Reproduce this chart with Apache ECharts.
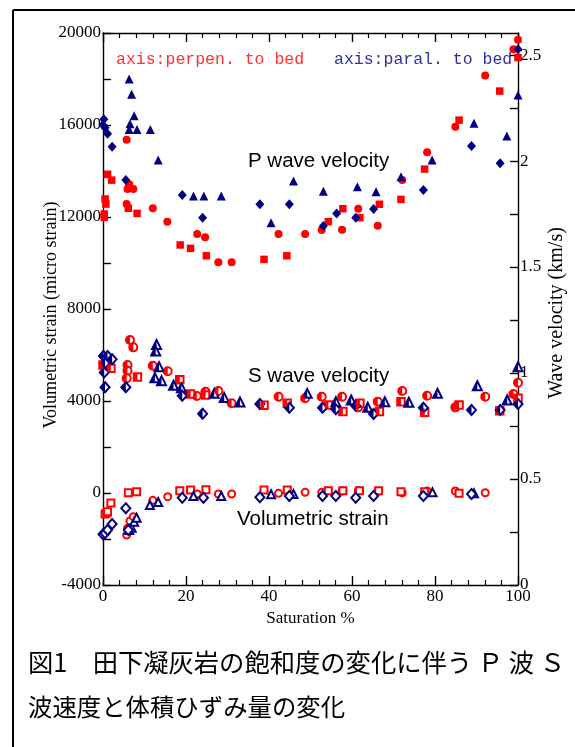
<!DOCTYPE html>
<html><head><meta charset="utf-8">
<script src="https://cdn.jsdelivr.net/npm/echarts@6/dist/echarts.min.js"></script>
<style>html,body{margin:0;padding:0;background:#fff}#c{width:575px;height:747px}</style>
</head><body><div id="c"></div>
<script>
// ---- Data: [saturation %, value] ----
// P wave velocity (km/s), right axis
const pPerpCircle = [[5.7,2.101],[6.3,1.890],[5.9,1.868],[7.3,1.868],[5.7,1.797],[12.0,1.777],[15.5,1.714],[22.7,1.656],[24.6,1.640],[27.8,1.522],[31.0,1.522],[42.3,1.656],[48.7,1.656],[52.7,1.675],[57.6,1.676],[61.5,1.775],[66.2,1.695],[72.1,1.910],[78.1,2.042],[84.9,2.162],[92.1,2.404],[98.9,2.527],[100,2.572]];
const pPerpSquare = [[1.1,1.937],[2.1,1.910],[0.5,1.821],[0.7,1.797],[0.3,1.750],[0.3,1.734],[6.1,1.777],[8.2,1.753],[18.6,1.604],[21.1,1.588],[24.9,1.553],[38.8,1.536],[44.3,1.553],[54.3,1.714],[57.8,1.775],[61.9,1.733],[66.6,1.796],[71.8,1.819],[77.5,1.962],[85.8,2.193],[95.6,2.330],[100,2.488]];
const pParaTriangle = [[6.3,2.387],[6.9,2.315],[7.5,2.214],[6.5,2.176],[6.3,2.149],[8.2,2.149],[11.4,2.149],[13.3,2.005],[21.8,1.835],[24.3,1.835],[28.5,1.835],[40.5,1.709],[45.9,1.906],[53.1,1.858],[61.3,1.879],[65.8,1.855],[71.8,1.926],[79.3,2.005],[89.4,2.178],[97.3,2.118],[100,2.311]];
const pParaDiamond = [[0.2,2.197],[0,2.170],[0.5,2.157],[1.1,2.129],[2.2,2.067],[5.5,1.910],[19.1,1.840],[24.0,1.733],[37.8,1.796],[44.9,1.796],[53.1,1.693],[56.3,1.753],[60.9,1.733],[65.2,1.774],[77.2,1.863],[88.8,2.071],[95.7,1.989],[100,2.527]];
// S wave velocity (km/s), right axis
const sPerpCircle = [[6.5,1.156],[7.3,1.121],[5.9,1.038],[5.9,1.011],[5.7,0.975],[12.0,1.034],[15.6,1.008],[22.6,0.892],[24.7,0.912],[27.8,0.915],[31.0,0.857],[42.3,0.888],[48.7,0.881],[52.7,0.888],[57.6,0.888],[61.5,0.838],[66.2,0.865],[72.1,0.915],[78.1,0.893],[84.9,0.838],[92.1,0.888],[98.9,0.901],[100,0.954]];
const sPerpSquare = [[0,1.038],[1.9,1.022],[8.3,0.981],[18.5,0.968],[21.1,0.901],[24.7,0.896],[38.8,0.848],[44.4,0.857],[54.3,0.849],[57.8,0.818],[61.9,0.857],[66.6,0.818],[71.8,0.865],[77.5,0.815],[85.8,0.849],[95.6,0.822],[100,0.881]];
const sParaTriangle = [[12.9,1.135],[12.7,1.104],[13.5,1.030],[12.5,0.978],[14.1,0.964],[17.0,0.942],[18.9,0.931],[26.8,0.904],[29.2,0.885],[33.0,0.863],[49.2,0.904],[56.1,0.865],[59.8,0.873],[63.8,0.838],[67.9,0.865],[73.7,0.862],[80.6,0.904],[90.2,0.940],[97.4,0.873],[100,1.030]];
const sParaDiamond = [[0.1,1.080],[1.1,1.080],[2.2,1.065],[0.5,1.046],[0.3,1.003],[0.5,0.933],[5.5,0.933],[19.1,0.893],[24.0,0.808],[37.8,0.854],[44.9,0.836],[52.9,0.836],[56.1,0.829],[60.9,0.846],[65.2,0.807],[77.2,0.836],[88.8,0.825],[95.7,0.825],[100,0.854]];
// Volumetric strain (micro strain), left axis
const strainPerpCircle = [[5.7,-1826],[5.9,-1536],[6.5,-1217],[7.3,-1029],[12.0,-319],[15.6,-159],[22.7,-43],[27.8,-43],[31.0,-43],[42.3,-15],[48.7,29],[52.7,29],[57.6,87],[61.5,100],[66.2,57],[72.1,13],[78.1,87],[84.9,87],[92.1,13]];
const strainPerpSquare = [[0.5,-913],[0.9,-857],[1.1,-813],[1.9,-435],[6.1,13],[8.1,57],[18.5,100],[21.1,130],[24.8,143],[38.8,130],[44.4,130],[54.3,100],[57.8,100],[61.8,100],[66.4,100],[71.8,57],[77.5,57],[85.8,-15]];
const strainParaTriangle = [[6.3,-1609],[6.9,-1507],[7.5,-1246],[8.1,-1072],[11.3,-522],[13.3,-391],[21.8,-130],[28.5,-130],[40.5,-57],[45.9,-43],[79.4,29],[89.4,-15]];
const strainParaDiamond = [[0,-1797],[0.5,-1754],[1.1,-1609],[2.2,-1348],[5.5,-667],[6.1,-1609],[19.1,-203],[24.2,-203],[37.8,-188],[44.9,-130],[52.9,-130],[56.1,-130],[60.9,-203],[65.2,-130],[77.2,-130],[88.8,-43]];

// Axis settings
const xRange = [0, 100];
const strainRange = [-4000, 20000];
const velocityRange = [0, 2.604];

// Text
const xTitle = 'Saturation %';
const leftTitle = 'Volumetric strain (micro strain)';
const rightTitle = 'Wave velocity (km/s)';
const perpLabel = 'axis:perpen. to bed';
const paraLabel = 'axis:paral. to bed';
const pLabel = 'P wave velocity';
const sLabel = 'S wave velocity';
const vLabel = 'Volumetric strain';
const captionLine1 = '図1　田下凝灰岩の飽和度の変化に伴う Ｐ 波 Ｓ';
const captionLine2 = '波速度と体積ひずみ量の変化';

const RED = '#ff0000', NAVY = '#000080';
const SLIVER = ' M99.9,0 L100,0 L100,100 L99.9,100 Z';
const halfSym = {
  circle: 'path://M50,0 A50,50 0 0,0 50,100 Z' + SLIVER,
  rect: 'path://M0,0 L50,0 L50,100 L0,100 Z' + SLIVER,
  triangle: 'path://M50,0 L50,100 L0,100 Z' + SLIVER,
  diamond: 'path://M50,0 L50,100 L0,50 Z' + SLIVER
};
const sizes = {circle: 8, rect: 7.5, triangle: 9, diamond: [9, 10]};
const openSizes = {circle: 7, rect: 7, triangle: 8, diamond: [9, 10]};

function filled(data, shape, color) {
  return {type: 'scatter', yAxisIndex: 1, data: data, symbol: shape, symbolSize: sizes[shape],
    itemStyle: {color: color, opacity: 1}, silent: true, z: 3};
}
function openS(data, shape, color, yIdx, sz) {
  const name = 'empty' + shape.charAt(0).toUpperCase() + shape.slice(1);
  return {type: 'scatter', yAxisIndex: yIdx, data: data, symbol: name, symbolSize: sz[shape],
    itemStyle: {color: color, borderColor: color, borderWidth: 1.2, opacity: 1}, silent: true, z: 3};
}
function half(data, shape, color) {
  return {type: 'scatter', yAxisIndex: 1, data: data, symbol: halfSym[shape], symbolSize: sizes[shape],
    itemStyle: {color: color, borderWidth: 0, opacity: 1}, silent: true, z: 4};
}

const serif = 'Liberation Serif';
const axisLineStyle = {color: '#000', width: 1.4};

const chart = echarts.init(document.getElementById('c'), null, {renderer: 'canvas'});
chart.setOption({
  animation: false,
  backgroundColor: '#fff',
  grid: {left: 103, right: 57, top: 33, bottom: 162, containLabel: false, outerBoundsMode: 'none'},
  xAxis: [{
    type: 'value', min: xRange[0], max: xRange[1], interval: 20, position: 'bottom',
    name: xTitle, nameLocation: 'middle', nameGap: 20,
    nameTextStyle: {fontFamily: serif, fontSize: 17, color: '#000'},
    axisLine: {show: true, onZero: false, lineStyle: axisLineStyle},
    axisTick: {show: true, inside: true, length: 9, lineStyle: axisLineStyle},
    minorTick: {show: true, splitNumber: 5, length: 5, lineStyle: {color: '#000', width: 1.2}},
    axisLabel: {fontFamily: serif, fontSize: 17, color: '#000', margin: 3},
    splitLine: {show: false}
  }, {
    type: 'value', min: xRange[0], max: xRange[1], interval: 20, position: 'top',
    axisLine: {show: true, onZero: false, lineStyle: axisLineStyle},
    axisTick: {show: true, inside: true, length: 9, lineStyle: axisLineStyle},
    minorTick: {show: true, splitNumber: 5, length: 5, lineStyle: {color: '#000', width: 1.2}},
    axisLabel: {show: false}, splitLine: {show: false}
  }],
  yAxis: [{
    type: 'value', min: strainRange[0], max: strainRange[1], interval: 4000, position: 'left',
    axisLine: {show: true, onZero: false, lineStyle: axisLineStyle},
    axisTick: {show: true, inside: true, length: 8, lineStyle: axisLineStyle},
    minorTick: {show: true, splitNumber: 2, length: 8, lineStyle: axisLineStyle},
    axisLabel: {fontFamily: serif, fontSize: 17, color: '#000', margin: 2,
      formatter: function (v) { return String(v); }},
    splitLine: {show: false}
  }, {
    type: 'value', min: velocityRange[0], max: velocityRange[1], interval: 0.25, position: 'right',
    axisLine: {show: true, onZero: false, lineStyle: axisLineStyle},
    axisTick: {show: true, inside: true, length: 8, lineStyle: axisLineStyle},
    axisLabel: {fontFamily: serif, fontSize: 17, color: '#000', margin: 2, showMaxLabel: false,
      formatter: function (v) { return Math.abs(v * 2 - Math.round(v * 2)) < 1e-6 ? String(+v.toFixed(2)) : ''; }},
    splitLine: {show: false}
  }],
  graphic: [
    {type: 'line', shape: {x1: 13, y1: 10, x2: 575, y2: 10}, style: {stroke: '#000', lineWidth: 2}},
    {type: 'line', shape: {x1: 13, y1: 10, x2: 13, y2: 747}, style: {stroke: '#000', lineWidth: 2}},
    {type: 'text', x: 51, y: 315, rotation: Math.PI / 2, style: {text: leftTitle, fill: '#000', font: '18px "Liberation Serif"', align: 'center', verticalAlign: 'middle'}},
    {type: 'text', x: 557, y: 313, rotation: Math.PI / 2, style: {text: rightTitle, fill: '#000', font: '20px "Liberation Serif"', align: 'center', verticalAlign: 'middle'}},
    {type: 'text', x: 116, y: 60, style: {text: perpLabel, fill: '#ff3030', font: '16.5px "Liberation Mono"', verticalAlign: 'middle'}},
    {type: 'text', x: 334, y: 60, style: {text: paraLabel, fill: '#3030a0', font: '16.5px "Liberation Mono"', verticalAlign: 'middle'}},
    {type: 'text', x: 248, y: 161, style: {text: pLabel, fill: '#000', font: '20.5px "Liberation Sans"', verticalAlign: 'middle'}},
    {type: 'text', x: 248, y: 376, style: {text: sLabel, fill: '#000', font: '20.5px "Liberation Sans"', verticalAlign: 'middle'}},
    {type: 'text', x: 237, y: 519, style: {text: vLabel, fill: '#000', font: '20.5px "Liberation Sans"', verticalAlign: 'middle'}},
    {type: 'text', x: 28, y: 662, style: {text: captionLine1, fill: '#000', font: '25.3px "Noto Sans CJK JP"', verticalAlign: 'middle'}},
    {type: 'text', x: 28, y: 707, style: {text: captionLine2, fill: '#000', font: '24.4px "Noto Sans CJK JP"', verticalAlign: 'middle'}}
  ],
  series: [
    filled(pPerpCircle, 'circle', RED),
    filled(pPerpSquare, 'rect', RED),
    filled(pParaTriangle, 'triangle', NAVY),
    filled(pParaDiamond, 'diamond', NAVY),
    openS(sPerpCircle, 'circle', RED, 1, sizes), half(sPerpCircle, 'circle', RED),
    openS(sPerpSquare, 'rect', RED, 1, sizes), half(sPerpSquare, 'rect', RED),
    openS(sParaTriangle, 'triangle', NAVY, 1, sizes), half(sParaTriangle, 'triangle', NAVY),
    openS(sParaDiamond, 'diamond', NAVY, 1, sizes), half(sParaDiamond, 'diamond', NAVY),
    openS(strainPerpCircle, 'circle', RED, 0, openSizes),
    openS(strainPerpSquare, 'rect', RED, 0, openSizes),
    openS(strainParaTriangle, 'triangle', NAVY, 0, openSizes),
    openS(strainParaDiamond, 'diamond', NAVY, 0, openSizes)
  ]
});
</script></body></html>
